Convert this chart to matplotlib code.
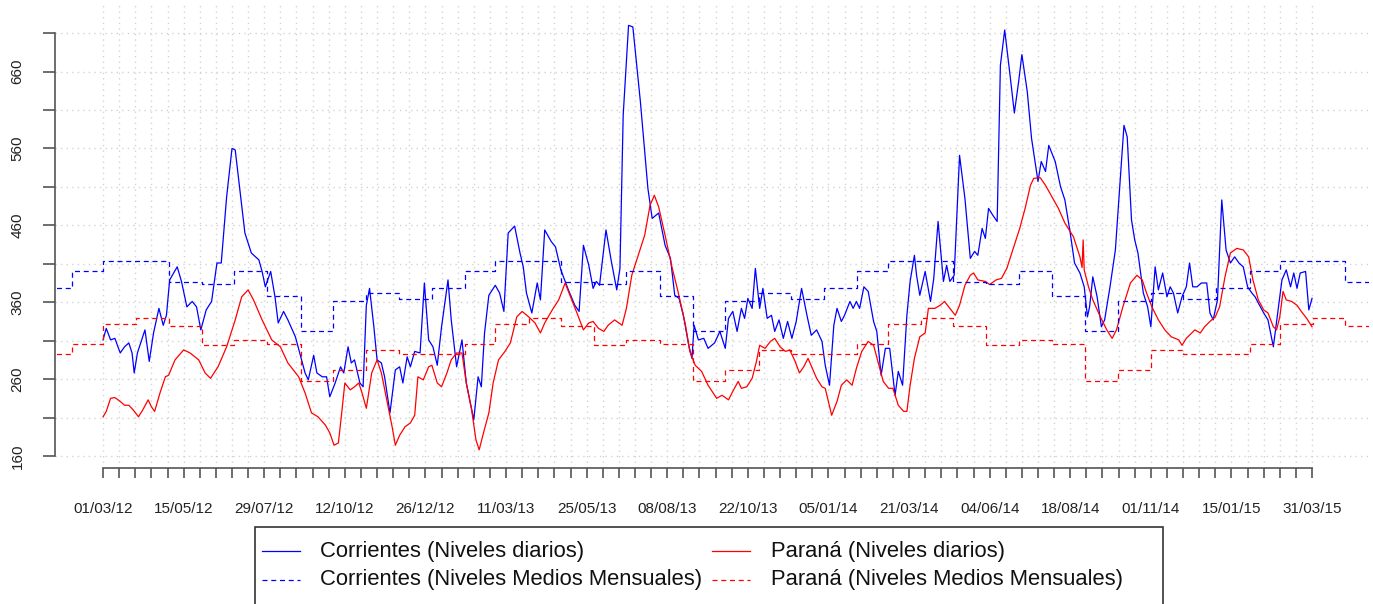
import numpy as np
import matplotlib.pyplot as plt
from matplotlib.lines import Line2D
from matplotlib.patches import Rectangle

plt.rcParams['font.family'] = ['Liberation Sans', 'DejaVu Sans']

# dias desde 01/03/12 y niveles (cm)
corr_dia = [0, 3, 7, 11, 16, 20, 24, 27, 29, 32, 36, 39, 43, 47, 52, 56, 59, 62, 69, 73,
            78, 83, 87, 91, 96, 101, 106, 110, 115, 120, 123, 127, 132, 138, 145, 148, 151, 156, 160, 163,
            168, 172, 179, 183, 188, 191, 196, 199, 204, 208, 211, 216, 221, 224, 228, 231, 234, 239, 242, 245,
            248, 252, 255, 259, 262, 267, 272, 276, 279, 283, 286, 290, 295, 299, 303, 307, 311, 315, 321, 324,
            329, 334, 338, 345, 349, 352, 355, 359, 365, 369, 373, 377, 383, 388, 391, 394, 399, 404, 407, 411,
            417, 421, 426, 433, 439, 443, 447, 452, 456, 459, 462, 468, 473, 478, 481, 484, 489, 493, 500, 507,
            511, 517, 523, 528, 532, 536, 540, 545, 548, 550, 554, 559, 563, 569, 574, 579, 582, 586, 590, 594,
            597, 600, 604, 607, 611, 614, 618, 622, 625, 629, 633, 637, 641, 645, 650, 655, 659, 664, 669, 672,
            676, 680, 683, 687, 690, 695, 698, 701, 704, 708, 712, 717, 720, 724, 728, 732, 737, 740, 744, 748,
            751, 755, 757, 760, 765, 770, 773, 777, 782, 785, 788, 792, 797, 802, 807, 811, 814, 818, 821, 824,
            828, 832, 835, 839, 844, 848, 852, 855, 860, 864, 870, 873, 877, 880, 886, 891, 895, 900, 904, 909,
            913, 916, 918, 921, 925, 929, 932, 937, 942, 946, 950, 953, 957, 960, 963, 968, 972, 975, 979, 982,
            986, 990, 993, 996, 1000, 1004, 1008, 1011, 1014, 1018, 1022, 1027, 1030, 1033, 1037, 1041, 1045, 1049, 1053, 1057,
            1061, 1065, 1069, 1072, 1075, 1080, 1084, 1089, 1093, 1097, 1101, 1105, 1108, 1111, 1114, 1119, 1122, 1125]
corr_nivel = [311, 326, 311, 313, 294, 302, 307, 294, 268, 294, 311, 324, 283, 320, 352, 330, 343, 389, 406, 387,
              354, 361, 354, 324, 350, 361, 411, 411, 497, 560, 558, 510, 450, 424, 415, 400, 380, 400, 367, 333,
              348, 337, 315, 294, 268, 259, 291, 268, 263, 263, 237, 255, 276, 268, 302, 281, 285, 255, 250, 356,
              378, 328, 285, 281, 263, 216, 272, 276, 255, 289, 276, 296, 294, 385, 311, 302, 278, 328, 389, 337,
              276, 311, 255, 207, 263, 250, 320, 369, 382, 372, 348, 450, 459, 424, 406, 372, 346, 385, 363, 454,
              439, 432, 402, 376, 356, 348, 434, 408, 378, 387, 382, 454, 413, 376, 404, 603, 720, 718, 621, 508,
              469, 476, 434, 417, 369, 365, 343, 304, 287, 330, 311, 313, 300, 307, 322, 300, 339, 348, 322, 352,
              339, 365, 352, 404, 352, 378, 339, 343, 322, 337, 313, 335, 313, 335, 378, 343, 317, 324, 309, 278,
              252, 330, 352, 335, 343, 361, 352, 361, 352, 380, 374, 335, 322, 265, 300, 300, 239, 270, 252, 343,
              387, 421, 395, 369, 400, 361, 391, 465, 387, 408, 387, 395, 551, 495, 417, 426, 421, 456, 443, 482,
              473, 465, 668, 714, 655, 606, 647, 682, 634, 573, 517, 543, 530, 564, 543, 510, 493, 450, 411, 398,
              380, 341, 354, 393, 367, 328, 337, 380, 428, 510, 590, 575, 467, 441, 424, 372, 354, 328, 406, 376,
              398, 367, 380, 372, 346, 367, 380, 411, 380, 380, 385, 385, 346, 337, 363, 493, 428, 411, 419, 411,
              406, 380, 372, 367, 359, 346, 337, 302, 346, 389, 402, 380, 398, 378, 398, 400, 350, 365]

par_dia = [0, 3, 7, 11, 16, 20, 24, 28, 33, 37, 42, 45, 48, 53, 58, 61, 67, 75, 81, 89,
           95, 100, 107, 115, 123, 129, 135, 140, 148, 157, 165, 172, 182, 188, 194, 200, 207, 211, 215, 219,
           222, 225, 230, 234, 238, 241, 245, 250, 255, 259, 264, 269, 272, 276, 281, 286, 290, 293, 298, 303,
           306, 311, 315, 320, 324, 329, 334, 338, 343, 347, 350, 354, 359, 363, 368, 374, 379, 385, 390, 396,
           402, 407, 411, 418, 424, 430, 435, 441, 447, 452, 456, 461, 466, 470, 476, 483, 487, 492, 498, 504,
           509, 513, 517, 523, 529, 535, 542, 546, 551, 557, 563, 571, 576, 582, 586, 591, 594, 599, 604, 608,
           611, 616, 621, 625, 630, 635, 639, 644, 648, 652, 656, 660, 664, 669, 672, 678, 683, 687, 692, 697,
           701, 706, 712, 717, 721, 726, 731, 735, 740, 745, 748, 751, 755, 760, 765, 768, 774, 779, 783, 788,
           793, 797, 802, 807, 810, 814, 821, 825, 831, 836, 841, 847, 853, 858, 863, 866, 872, 877, 883, 889,
           895, 903, 909, 911, 912, 913, 917, 921, 928, 934, 939, 943, 949, 956, 962, 967, 971, 976, 982, 988,
           994, 1001, 1004, 1008, 1013, 1016, 1021, 1025, 1030, 1035, 1039, 1044, 1049, 1055, 1061, 1066, 1070, 1075, 1080, 1084,
           1089, 1092, 1095, 1098, 1101, 1106, 1111, 1115, 1120, 1125]
par_nivel = [211, 218, 235, 236, 231, 226, 226, 220, 211, 220, 233, 224, 218, 242, 263, 265, 285, 298, 294, 285,
             268, 261, 276, 302, 337, 367, 376, 363, 337, 311, 302, 281, 263, 242, 216, 211, 200, 190, 174, 177,
             215, 255, 246, 250, 255, 242, 222, 268, 285, 268, 233, 198, 174, 187, 198, 203, 213, 263, 259, 276,
             278, 255, 250, 268, 285, 294, 294, 255, 220, 181, 168, 190, 216, 255, 285, 296, 307, 341, 348, 341,
             333, 320, 333, 350, 363, 385, 367, 346, 324, 333, 335, 326, 322, 330, 337, 330, 352, 395, 421, 447,
             486, 499, 484, 447, 408, 374, 330, 296, 278, 270, 252, 235, 239, 233, 244, 257, 248, 250, 261, 283,
             304, 300, 309, 313, 302, 296, 298, 283, 268, 276, 287, 274, 261, 250, 248, 213, 231, 252, 259, 252,
             274, 296, 309, 304, 283, 257, 248, 248, 226, 218, 218, 252, 287, 315, 320, 352, 352, 356, 361, 352,
             343, 356, 382, 395, 398, 389, 387, 383, 389, 391, 404, 430, 456, 482, 512, 521, 522, 512, 497, 482,
             463, 445, 419, 405, 441, 402, 380, 363, 341, 324, 313, 324, 354, 385, 395, 389, 372, 354, 337, 324,
             315, 311, 304, 313, 320, 324, 320, 328, 335, 341, 354, 393, 424, 430, 428, 419, 389, 363, 350, 346,
             328, 324, 341, 374, 363, 361, 356, 348, 339, 328]

# medias mensuales (ene..dic), se repiten cada anio
corr_mensual = [379, 401, 414, 414, 386, 384, 401, 368, 322, 361, 372, 364]
par_mensual = [293, 306, 332, 340, 329, 304, 311, 306, 258, 272, 298, 293]

fechas = ["01/03/12", "15/05/12", "29/07/12", "12/10/12", "26/12/12", "11/03/13",
          "25/05/13", "08/08/13", "22/10/13", "05/01/14", "21/03/14", "04/06/14",
          "18/08/14", "01/11/14", "15/01/15", "31/03/15"]

inicio = np.datetime64('2012-03-01')
meses = np.arange('2012-01', '2015-07', dtype='datetime64[M]')
mes_dia = (meses.astype('datetime64[D]') - inicio).astype(int)
mes_idx = meses.astype(int) % 12
corr_m = [corr_mensual[i] for i in mes_idx]
par_m = [par_mensual[i] for i in mes_idx]

W, H = 1373, 604
fig = plt.figure(figsize=(W / 100, H / 100), dpi=100)
ax = fig.add_axes([55 / W, 1 - 468 / H, (1369 - 55) / W, (468 - 5) / H])

dash = (0, (4, 3))
ax.plot(corr_dia, corr_nivel, color='blue', lw=0.9)
ax.plot(par_dia, par_nivel, color='red', lw=0.9)
ax.step(mes_dia, corr_m, where='post', color='blue', lw=0.9, linestyle=dash)
ax.step(mes_dia, par_m, where='post', color='red', lw=0.9, linestyle=dash)

ax.set_xlim(-44.7, 1178)
ax.set_ylim(144.4, 746.5)

xt = np.arange(0, 1126, 15)
ax.set_xticks(xt)
ax.set_xticklabels([fechas[i // 5] if i % 5 == 0 else '' for i in range(len(xt))])
yt = np.arange(160, 711, 50)
ax.set_yticks(yt)
ax.set_yticklabels([str(v) if (v - 160) % 100 == 0 else '' for v in yt])

ax.grid(True, color='#d3d3d3', linestyle=(0, (1, 3)), lw=1)
ax.set_axisbelow(True)

for s in ['top', 'right']:
    ax.spines[s].set_visible(False)
ax.spines['left'].set_bounds(160, 710)
ax.spines['bottom'].set_bounds(0, 1125)
for s in ['left', 'bottom']:
    ax.spines[s].set_color('#555555')
    ax.spines[s].set_linewidth(1.2)

ax.tick_params(axis='x', length=7.5, width=1.2, color='#555555', pad=17,
               labelsize=11, labelcolor='#222222')
ax.tick_params(axis='y', length=9, width=1.2, color='#555555', pad=13,
               labelsize=11, labelcolor='#222222', labelrotation=90)
for t in ax.get_yticklabels():
    t.set_va('center')


def fx(px):
    return px / W


def fy(py):
    return 1 - py / H


# leyenda
fig.add_artist(Rectangle((fx(255), fy(608)), fx(1163) - fx(255), fy(527) - fy(608),
                         fill=False, edgecolor='#333333', lw=1.2, transform=fig.transFigure))
items = [("Corrientes (Niveles diarios)", 'blue', '-', 262, 320, 551),
         ("Corrientes (Niveles Medios Mensuales)", 'blue', dash, 262, 320, 580),
         ("Paraná (Niveles diarios)", 'red', '-', 712, 771, 551),
         ("Paraná (Niveles Medios Mensuales)", 'red', dash, 712, 771, 580)]
for lab, col, ls, x0, xt0, yy in items:
    fig.add_artist(Line2D([fx(x0), fx(x0 + 38)], [fy(yy), fy(yy)], color=col, lw=0.9,
                          linestyle=ls, transform=fig.transFigure))
    fig.text(fx(xt0), fy(yy), lab, ha='left', va='center', fontsize=15.8, color='#111111')

fig.savefig('out.png', dpi=100)
